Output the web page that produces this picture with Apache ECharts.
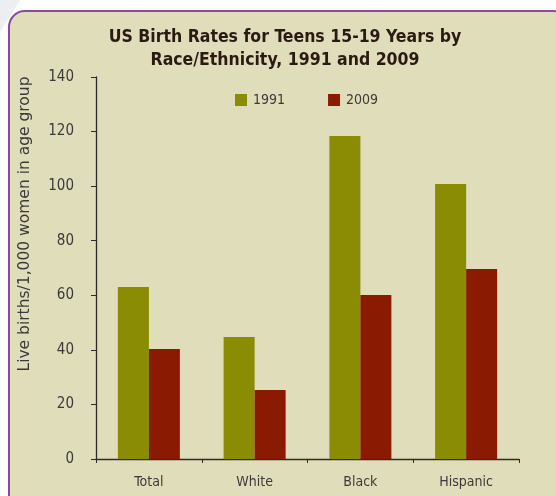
<!DOCTYPE html>
<html>
<head>
<meta charset="utf-8">
<script src="https://cdn.jsdelivr.net/npm/echarts@6/dist/echarts.min.js"></script>
<style>
html,body{margin:0;padding:0;background:#fff;}
#c{width:556px;height:496px;}
</style>
</head>
<body>
<div id="c"></div>
<script>
var categories = ['Total', 'White', 'Black', 'Hispanic'];
var rates1991 = [63.0, 44.7, 118.4, 100.8];
var rates2009 = [40.3, 25.3, 60.1, 69.6];
var yTicks = [0, 20, 40, 60, 80, 100, 120, 140];

var chart = echarts.init(document.getElementById('c'));
var axisColor = '#2b2b2b';
var textColor = '#3a3a3a';
var font = '"DejaVu Sans Condensed", "Liberation Sans Narrow", Arial, sans-serif';

chart.setOption({
  animation: false,
  backgroundColor: '#ffffff',
  graphic: [
    { type: 'polygon', z: -2, shape: { points: [[0,0],[20,0],[0,32]] }, style: { fill: '#eceef2' } },
    { type: 'rect', z: -1, shape: { x: 9, y: 11, width: 560, height: 500, r: 16 },
      style: { fill: '#e0ddba', stroke: '#8b4a9c', lineWidth: 2 } },
    { type: 'text', x: 25, y: 224, rotation: Math.PI / 2,
      style: { text: 'Live births/1,000 women in age group', fill: textColor,
        font: '15.5px "DejaVu Sans", Arial, sans-serif', textAlign: 'center', textVerticalAlign: 'middle' } }
  ],
  title: {
    text: 'US Birth Rates for Teens 15-19 Years by\nRace/Ethnicity, 1991 and 2009',
    left: 280, textAlign: 'center', top: 21,
    textStyle: { fontFamily: font, fontWeight: 'bold', fontSize: 17.5, color: '#2a1a12', lineHeight: 23 }
  },
  legend: {
    data: ['1991', '2009'],
    left: 235, top: 93, padding: 0,
    itemWidth: 12, itemHeight: 12, itemGap: 43,
    icon: 'rect',
    textStyle: { fontFamily: font, fontSize: 14, color: textColor, padding: [0, 0, 0, 1] }
  },
  grid: { left: 96, right: 37, top: 77, bottom: 37, containLabel: false },
  xAxis: {
    type: 'category', data: categories,
    axisLine: { lineStyle: { color: axisColor, width: 1.3 } },
    axisTick: { show: true, length: 4, lineStyle: { color: axisColor } },
    axisLabel: { fontFamily: font, fontSize: 14, color: textColor, margin: 16 }
  },
  yAxis: {
    type: 'value', min: 0, max: 140, interval: 20,
    axisLine: { show: true, lineStyle: { color: axisColor, width: 1.3 } },
    axisTick: { show: true, length: 5, lineStyle: { color: axisColor } },
    splitLine: { show: false },
    axisLabel: { fontFamily: font, fontSize: 15, color: textColor, margin: 22,
      formatter: function (v) { return yTicks.indexOf(v) >= 0 ? String(v) : ''; } }
  },
  series: [
    { name: '1991', type: 'bar', data: rates1991, barWidth: 31, barGap: '0%',
      itemStyle: { color: '#8a8c03' } },
    { name: '2009', type: 'bar', data: rates2009, barWidth: 31,
      itemStyle: { color: '#8a1a02' } }
  ]
});
</script>
</body>
</html>
